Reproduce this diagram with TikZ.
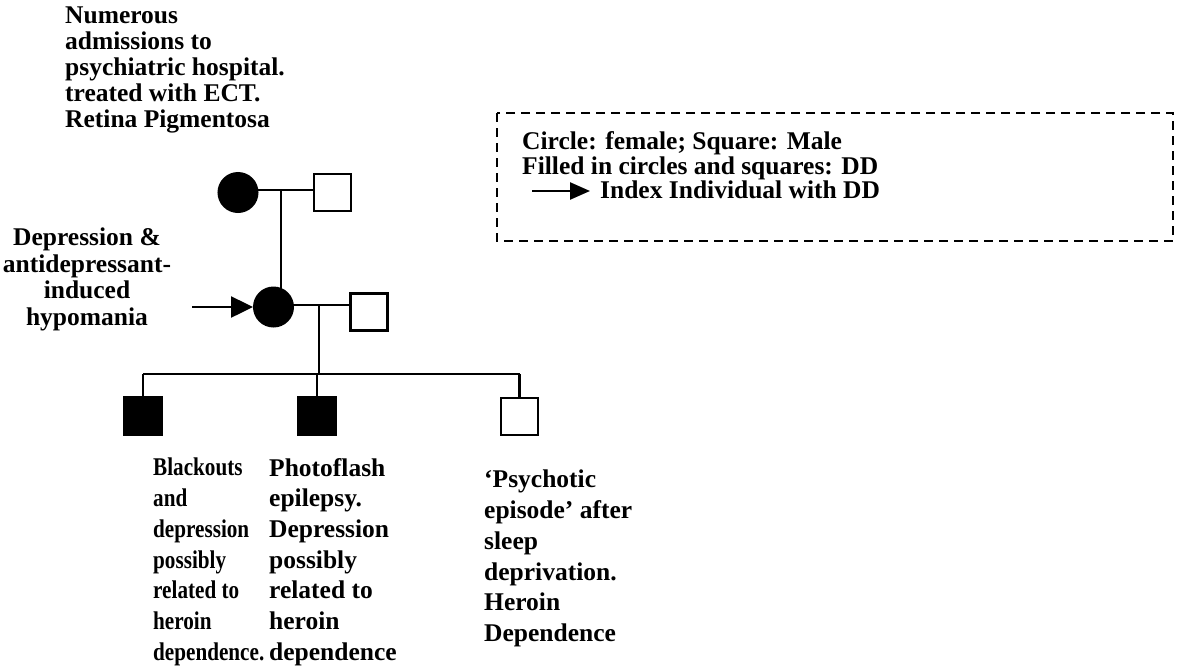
\documentclass[tikz,border=0pt]{standalone}
\usepackage{fontspec}
\setmainfont{Liberation Serif}
\newfontfamily\narrowserif{Liberation Serif}[FakeStretch=0.83]
\usetikzlibrary{arrows.meta,backgrounds}

\begin{document}
\begin{tikzpicture}[x=1pt,y=-1pt,
  txt/.style={inner sep=0pt, align=left, anchor=north west},
  tightlbl/.style={txt, font=\fontsize{25.5}{26}\selectfont\bfseries},
  midlbl/.style={txt, font=\fontsize{25.5}{26.5}\selectfont\bfseries},
  widelbl/.style={txt, font=\fontsize{25.5}{30.7}\selectfont\bfseries},
  narrowlbl/.style={txt, font=\narrowserif\fontsize{25.5}{30.7}\selectfont\bfseries},
  keylbl/.style={txt, font=\fontsize{25.5}{25}\selectfont\bfseries},
  female/.style={circle, draw, fill=black, minimum size=38.5pt, inner sep=0pt, line width=2.5pt},
  male/.style={rectangle, draw, fill=white, minimum size=37pt, inner sep=0pt, line width=2.5pt},
  affected/.style={fill=black},
  link/.style={line width=2.5pt},
  pointer/.style={line width=2.5pt, -{Triangle[length=22pt,width=21pt]}},
  keypointer/.style={line width=2.5pt, -{Triangle[length=20pt,width=17pt]}},
  keyframe/.style={line width=2.5pt, dash pattern=on 9pt off 6pt}
]
\useasboundingbox (0,0) rectangle (1177,670);

% generation I
\node[female] (gm) at (238,192.5) {};
\node[male]   (gf) at (332.5,192.5) {};
% generation II
\node[female] (mom) at (273.5,307) {};
\node[male]   (dad) at (369,312) {};
% generation III
\node[male, affected] (c1) at (143,416) {};
\node[male, affected] (c2) at (317,416) {};
\node[male]           (c3) at (519.5,416.5) {};

% junction points of the pedigree lines
\coordinate (j1) at (281,190);
\coordinate (j2) at (319,305);
\coordinate (j3) at (319,374);

\begin{scope}[on background layer]
  \draw[link] (gm |- j1) -- (gf |- j1);
  \draw[link] (j1) -- (j1 |- mom);
  \draw[link] (mom |- j2) -- (dad |- j2);
  \draw[link] (j2) -- (j3);
  \draw[link] (c1 |- j3) -- (c3 |- j3);
  \draw[link] (c1 |- j3) -- (c1);
  \draw[link] (c2 |- j3) -- (c2);
  \draw[link] (c3 |- j3) -- (c3);
\end{scope}

% index individual
\coordinate (ia) at (192,307);
\draw[pointer] (ia) -- (mom.west);

% annotations
\node[tightlbl] (note1) at (65,7) {Numerous\\admissions to\\psychiatric hospital.\\treated with ECT.\\Retina Pigmentosa};
\node[midlbl, align=center, anchor=north] (note2) at (87,228) {Depression \&\\antidepressant-\\induced\\hypomania};
\node[narrowlbl] (note3) at (153,458) {Blackouts\\and\\depression\\possibly\\related to\\heroin\\dependence.};
\node[widelbl] (note4) at (269,458) {Photoflash\\epilepsy.\\Depression\\possibly\\related to\\heroin\\dependence};
\node[widelbl] (note5) at (484,470) {‘Psychotic\\episode’ after\\sleep\\deprivation.\\Heroin\\Dependence};

% key
\draw[keyframe] (497,113) rectangle (1173,241);
\node[keylbl] (key) at (522,131) {Circle: female; Square: Male\\Filled in circles and squares: DD};
\node[keylbl, anchor=base west] (idx) at (600,198) {Index Individual with DD};
\coordinate (ka) at (532,191);
\draw[keypointer] (ka) -- ([xshift=-10pt]ka -| idx.west);
\end{tikzpicture}
\end{document}
